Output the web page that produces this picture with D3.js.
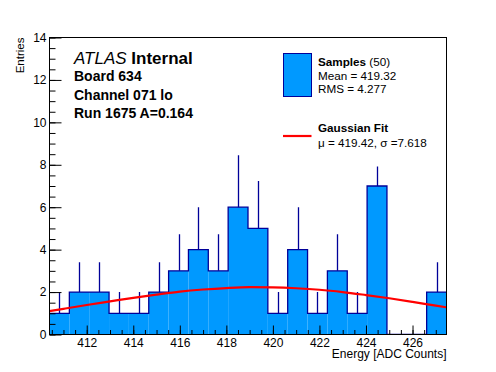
<!DOCTYPE html>
<html>
<head>
<meta charset="utf-8">
<script src="https://cdn.jsdelivr.net/npm/d3@7"></script>
<style>
  body { margin: 0; background: #fff; }
  text { font-family: 'Liberation Sans', Arial, Helvetica, sans-serif; }
</style>
</head>
<body>
<div id="chart"></div>
<script>
// Histogram data (20 bins)
const xRange = [410.4, 427.46];
const binCounts = [1, 2, 2, 1, 1, 2, 3, 4, 3, 6, 5, 1, 4, 1, 3, 1, 7, 0, 0, 2];
const binErrors = [1, 1.41, 1.41, 1, 1, 1.41, 1.73, 2, 1.73, 2.45, 2.24, 1, 2, 1, 1.73, 1, 2.65, 0, 0, 1.41];

// Gaussian fit curve
const fitEnergy = [410.4, 411, 412, 413, 414, 415, 416, 417, 418, 419, 420, 421, 422, 423, 424, 425, 426, 427, 427.46];
const fitEntries = [1.10, 1.21, 1.39, 1.56, 1.73, 1.88, 2.02, 2.12, 2.19, 2.23, 2.22, 2.18, 2.11, 2.00, 1.86, 1.71, 1.54, 1.36, 1.28];

// Ticks
const xMajorTicks = [412, 414, 416, 418, 420, 422, 424, 426];
const xMinorTicks = d3.range(410.5, 427.5, 0.5);
const yMajorTicks = [0, 2, 4, 6, 8, 10, 12, 14];
const yMinorTicks = d3.range(0, 14.5, 0.5);

// Labels
const infoLines = ['Board 634', 'Channel 071 lo', 'Run 1675 A=0.164'];
const statLines = ['Mean = 419.32', 'RMS = 4.277'];
const fitLabel = '\u03bc = 419.42, \u03c3 =7.618';

const fillColor = '#0099ff';
const lineColor = '#000099';

const width = 496;
const height = 372;
const frame = { left: 49.5, right: 446.5, top: 37.5, bottom: 334.5 };

const svg = d3
  .select('#chart')
  .append('svg')
  .attr('width', width)
  .attr('height', height);

const x = d3.scaleLinear().domain(xRange).range([frame.left, frame.right]);
const y = d3.scaleLinear().domain([0, 14]).range([frame.bottom, frame.top]);

svg.append('defs')
  .append('clipPath')
  .attr('id', 'frameClip')
  .append('rect')
  .attr('x', frame.left)
  .attr('y', frame.top)
  .attr('width', frame.right - frame.left)
  .attr('height', frame.bottom - frame.top);

const plot = svg.append('g').attr('clip-path', 'url(#frameClip)');

const binWidth = (xRange[1] - xRange[0]) / binCounts.length;
const bins = binCounts.map((c, i) => ({
  x0: xRange[0] + i * binWidth,
  x1: xRange[0] + (i + 1) * binWidth,
  count: c,
  err: binErrors[i]
}));

// Filled bars
plot.selectAll('.bar')
  .data(bins.filter((d) => d.count > 0))
  .enter()
  .append('rect')
  .attr('class', 'bar')
  .attr('x', (d) => x(d.x0))
  .attr('y', (d) => y(d.count))
  .attr('width', (d) => x(d.x1) - x(d.x0))
  .attr('height', (d) => y(0) - y(d.count))
  .attr('fill', fillColor);

// Step outline
const steps = [];
bins.forEach((d) => {
  steps.push([d.x0, d.count]);
  steps.push([d.x1, d.count]);
});
plot.append('path')
  .datum(steps)
  .attr('fill', 'none')
  .attr('stroke', lineColor)
  .attr('stroke-width', 1.3)
  .attr('d', d3.line().x((d) => x(d[0])).y((d) => y(d[1])));

// Error bars (upper half visible)
plot.selectAll('.err')
  .data(bins.filter((d) => d.count > 0))
  .enter()
  .append('line')
  .attr('class', 'err')
  .attr('x1', (d) => Math.round(x((d.x0 + d.x1) / 2)) + 0.5)
  .attr('x2', (d) => Math.round(x((d.x0 + d.x1) / 2)) + 0.5)
  .attr('y1', (d) => y(d.count))
  .attr('y2', (d) => y(d.count + d.err))
  .attr('stroke', lineColor)
  .attr('stroke-width', 1.3);

// Fit curve
const fitPoints = fitEnergy.map((e, i) => [e, fitEntries[i]]);
plot.append('path')
  .datum(fitPoints)
  .attr('fill', 'none')
  .attr('stroke', '#ff0000')
  .attr('stroke-width', 2.2)
  .attr('d', d3.line().x((d) => x(d[0])).y((d) => y(d[1])).curve(d3.curveMonotoneX));

// Frame
svg.append('rect')
  .attr('x', frame.left)
  .attr('y', frame.top)
  .attr('width', frame.right - frame.left)
  .attr('height', frame.bottom - frame.top)
  .attr('fill', 'none')
  .attr('stroke', '#000')
  .attr('stroke-width', 1);

// Axes (ticks inside frame)
const xMinor = svg.append('g')
  .attr('transform', `translate(0,${frame.bottom})`)
  .call(d3.axisBottom(x).tickValues(xMinorTicks).tickSize(-4.5).tickFormat(''));
const xMajor = svg.append('g')
  .attr('transform', `translate(0,${frame.bottom})`)
  .call(d3.axisBottom(x).tickValues(xMajorTicks).tickSize(-9).tickPadding(5).tickFormat(d3.format('d')));
const yMinor = svg.append('g')
  .attr('transform', `translate(${frame.left},0)`)
  .call(d3.axisLeft(y).tickValues(yMinorTicks).tickSize(-6).tickFormat(''));
const yMajor = svg.append('g')
  .attr('transform', `translate(${frame.left},0)`)
  .call(d3.axisLeft(y).tickValues(yMajorTicks).tickSize(-12).tickPadding(3).tickFormat(d3.format('d')));

[xMinor, xMajor, yMinor, yMajor].forEach((g) => {
  g.select('.domain').remove();
  g.selectAll('line').attr('stroke', '#000');
  g.selectAll('text')
    .attr('font-size', '12px')
    .attr('fill', '#000')
    .attr('font-family', "'Liberation Sans', Arial, sans-serif");
});
xMajor.selectAll('text').attr('y', 4).attr('dy', '0.71em');

// Axis titles
svg.append('text')
  .attr('x', frame.right)
  .attr('y', 358)
  .attr('text-anchor', 'end')
  .attr('font-size', '12px')
  .text('Energy [ADC Counts]');

svg.append('text')
  .attr('transform', `translate(23.5,${frame.top}) rotate(-90)`)
  .attr('text-anchor', 'end')
  .attr('font-size', '11.5px')
  .text('Entries');

// ATLAS label block
const atlas = svg.append('text')
  .attr('x', 74)
  .attr('y', 63.5)
  .attr('font-size', '17px');
atlas.append('tspan').attr('font-style', 'italic').text('ATLAS');
atlas.append('tspan').attr('font-weight', 'bold').text(' Internal');

svg.selectAll('.info')
  .data(infoLines)
  .enter()
  .append('text')
  .attr('class', 'info')
  .attr('x', 74)
  .attr('y', (d, i) => 80.7 + i * 18.8)
  .attr('font-size', '14px')
  .attr('font-weight', 'bold')
  .text((d) => d);

// Legend (white background hides what lies beneath it)
svg.append('rect')
  .attr('x', 278)
  .attr('y', 41)
  .attr('width', 163)
  .attr('height', 125.5)
  .attr('fill', '#fff');

svg.append('rect')
  .attr('x', 283.5)
  .attr('y', 53.5)
  .attr('width', 28)
  .attr('height', 43)
  .attr('fill', fillColor)
  .attr('stroke', lineColor)
  .attr('stroke-width', 1);

const samples = svg.append('text')
  .attr('x', 318)
  .attr('y', 65.7)
  .attr('font-size', '11.7px');
samples.append('tspan').attr('font-weight', 'bold').text('Samples');
samples.append('tspan').text(' (50)');

svg.selectAll('.stat')
  .data(statLines)
  .enter()
  .append('text')
  .attr('class', 'stat')
  .attr('x', 318)
  .attr('y', (d, i) => 80 + i * 13.3)
  .attr('font-size', '11.7px')
  .text((d) => d);

svg.append('line')
  .attr('x1', 283)
  .attr('x2', 311.5)
  .attr('y1', 136)
  .attr('y2', 136)
  .attr('stroke', '#ff0000')
  .attr('stroke-width', 2.2);

svg.append('text')
  .attr('x', 318)
  .attr('y', 132.3)
  .attr('font-size', '11.7px')
  .attr('font-weight', 'bold')
  .text('Gaussian Fit');

svg.append('text')
  .attr('x', 318)
  .attr('y', 146.7)
  .attr('font-size', '11.7px')
  .text(fitLabel);
</script>
</body>
</html>
